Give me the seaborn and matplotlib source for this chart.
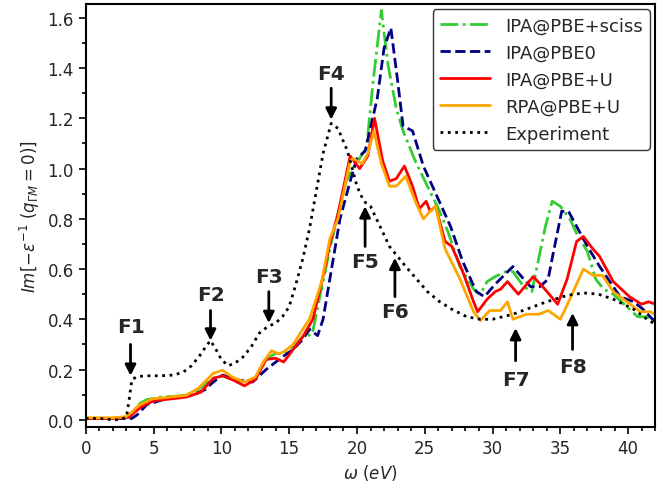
import matplotlib
matplotlib.use("Agg")
import matplotlib.pyplot as plt
import matplotlib.ticker as ticker
import seaborn as sns

# Experiment (EELS)
exp_x = [0, 1, 2, 2.5, 3.0, 3.2, 3.4, 3.8, 4.5, 5.5, 6.5, 7.2, 7.8, 8.4, 8.9, 9.2, 9.6, 10.0,
         10.5, 11.0, 11.6, 12.2, 12.8, 13.4, 14.0, 14.5, 15.0, 15.5, 16.0, 16.5, 17.0, 17.5,
         18.1, 18.6, 19.3, 20.0, 20.5, 21.0, 21.7, 22.4, 23.0, 23.6, 24.4, 25.2, 26.1, 27.0,
         28.1, 29.1, 30.0, 31.5, 33.0, 34.0, 35.5, 36.7, 37.8, 38.9, 40.4, 41.4, 42]
exp_y = [0.005, 0.005, 0.0, 0.0, 0.01, 0.08, 0.16, 0.172, 0.175, 0.175, 0.178, 0.19, 0.215,
         0.255, 0.295, 0.315, 0.28, 0.24, 0.215, 0.225, 0.25, 0.29, 0.345, 0.37, 0.385, 0.41,
         0.45, 0.54, 0.64, 0.76, 0.91, 1.06, 1.18, 1.16, 1.07, 0.93, 0.87, 0.85, 0.77, 0.69,
         0.65, 0.61, 0.56, 0.51, 0.47, 0.44, 0.41, 0.40, 0.40, 0.42, 0.45, 0.47, 0.495, 0.505,
         0.50, 0.48, 0.44, 0.40, 0.38]

# IPA@PBE+sciss
sciss_x = [0, 2, 3.2, 3.6, 4.0, 4.5, 5.5, 7.0, 8.0, 8.8, 9.4, 10.1, 10.8, 11.7, 12.5, 13.3,
           14.0, 14.6, 15.3, 16.0, 16.7, 17.3, 18.0, 18.6, 19.2, 19.7, 20.3, 20.7, 21.2, 21.8,
           22.3, 22.9, 23.4, 24.3, 25.2, 26.1, 26.7, 27.6, 28.6, 29.1, 29.6, 30.2, 31.0, 31.5,
           32.3, 32.9, 33.4, 33.9, 34.4, 35.0, 35.7, 36.3, 37.0, 37.6, 38.2, 38.9, 39.9, 40.7,
           41.4, 42]
sciss_y = [0.005, 0.005, 0.01, 0.04, 0.065, 0.08, 0.09, 0.095, 0.11, 0.14, 0.165, 0.175, 0.16,
           0.15, 0.16, 0.24, 0.265, 0.26, 0.29, 0.33, 0.34, 0.50, 0.68, 0.82, 0.95, 1.00, 1.05,
           1.08, 1.35, 1.63, 1.41, 1.24, 1.15, 1.03, 0.93, 0.83, 0.75, 0.61, 0.52, 0.50, 0.55,
           0.57, 0.59, 0.59, 0.53, 0.51, 0.64, 0.77, 0.87, 0.85, 0.80, 0.73, 0.67, 0.56, 0.52,
           0.50, 0.45, 0.41, 0.41, 0.40]

# IPA@PBE0
pbe0_x = [0, 2, 3.4, 3.8, 4.5, 6.0, 8.0, 8.8, 9.4, 10.1, 11.0, 12.3, 13.3, 14.5, 15.3, 16.0,
          16.5, 17.1, 17.5, 18.0, 18.75, 19.5, 20.0, 20.6, 21.5, 22.0, 22.5, 23.0, 23.4, 24.1,
          24.9, 25.9, 26.9, 27.8, 28.8, 29.4, 30.2, 31.5, 32.3, 32.8, 33.5, 34.1, 34.5, 35.1,
          35.6, 36.2, 37.0, 37.9, 39.4, 40.4, 41.1, 41.8, 42]
pbe0_y = [0.005, 0.005, 0.005, 0.02, 0.06, 0.085, 0.10, 0.12, 0.15, 0.178, 0.16, 0.15, 0.20,
          0.25, 0.28, 0.32, 0.36, 0.335, 0.40, 0.56, 0.80, 0.95, 1.04, 1.07, 1.28, 1.48, 1.56,
          1.35, 1.17, 1.15, 1.01, 0.89, 0.77, 0.63, 0.51, 0.49, 0.54, 0.61, 0.56, 0.53, 0.53,
          0.56, 0.67, 0.83, 0.83, 0.77, 0.69, 0.61, 0.49, 0.47, 0.44, 0.40, 0.39]

# IPA@PBE+U
ipa_u_x = [0, 2, 3.2, 3.6, 4.2, 5.0, 7.4, 8.5, 9.4, 10.1, 10.8, 11.7, 12.5, 13.3, 14.0, 14.6,
           15.3, 16.0, 16.75, 17.5, 18.0, 18.6, 19.5, 20.2, 20.8, 21.3, 21.9, 22.4, 22.9, 23.5,
           24.1, 24.6, 25.1, 25.4, 25.8, 26.5, 27.0, 27.8, 28.6, 28.9, 29.6, 30.2, 30.6, 31.1,
           31.9, 33.0, 33.7, 34.8, 35.5, 36.2, 36.7, 37.4, 37.9, 38.9, 40.1, 41.0, 41.5, 42]
ipa_u_y = [0.005, 0.005, 0.01, 0.03, 0.055, 0.075, 0.09, 0.11, 0.165, 0.175, 0.16, 0.135, 0.16,
           0.24, 0.245, 0.23, 0.28, 0.33, 0.40, 0.57, 0.70, 0.82, 1.05, 1.00, 1.05, 1.20, 1.03,
           0.95, 0.96, 1.01, 0.93, 0.84, 0.87, 0.83, 0.85, 0.71, 0.69, 0.59, 0.47, 0.43, 0.48,
           0.51, 0.52, 0.55, 0.50, 0.57, 0.53, 0.46, 0.56, 0.71, 0.73, 0.68, 0.65, 0.55, 0.49,
           0.46, 0.47, 0.46]

# RPA@PBE+U
rpa_u_x = [0, 2, 2.95, 3.4, 3.9, 4.9, 7.4, 8.3, 9.4, 10.1, 10.8, 11.7, 12.5, 13.1, 13.7, 14.2,
           14.6, 15.3, 16.0, 16.5, 17.4, 18.0, 18.6, 19.5, 19.7, 20.4, 20.8, 21.25, 21.8, 22.4,
           22.9, 23.6, 24.3, 24.9, 25.4, 25.8, 26.5, 27.6, 28.6, 29.1, 29.8, 30.6, 31.1, 31.5,
           32.5, 33.4, 34.1, 35.0, 35.7, 36.7, 37.4, 38.1, 38.9, 39.9, 40.9, 41.6, 42]
rpa_u_y = [0.008, 0.008, 0.012, 0.03, 0.057, 0.083, 0.097, 0.125, 0.185, 0.197, 0.17, 0.15,
           0.17, 0.23, 0.275, 0.263, 0.27, 0.30, 0.36, 0.40, 0.55, 0.72, 0.80, 1.03, 1.04, 1.02,
           1.06, 1.15, 1.02, 0.93, 0.93, 0.97, 0.87, 0.80, 0.83, 0.85, 0.68, 0.56, 0.43, 0.395,
           0.435, 0.435, 0.47, 0.40, 0.42, 0.42, 0.435, 0.40, 0.48, 0.60, 0.575, 0.575, 0.51,
           0.47, 0.43, 0.43, 0.42]

# feature labels: name, text position, arrow tail, arrow head
features = ['F1', 'F2', 'F3', 'F4', 'F5', 'F6', 'F7', 'F8']
feat_text = [(3.3, 0.37), (9.2, 0.50), (13.5, 0.57), (18.1, 1.38),
             (20.6, 0.63), (22.8, 0.43), (31.7, 0.16), (35.9, 0.21)]
feat_tail = [(3.3, 0.30), (9.2, 0.435), (13.5, 0.51), (18.1, 1.32),
             (20.6, 0.69), (22.8, 0.49), (31.7, 0.235), (35.9, 0.28)]
feat_head = [(3.3, 0.175), (9.2, 0.315), (13.5, 0.385), (18.1, 1.195),
             (20.6, 0.85), (22.8, 0.645), (31.7, 0.365), (35.9, 0.425)]

sns.set_style("ticks")
plt.rcParams['font.family'] = ['DejaVu Sans']

fig, ax = plt.subplots(figsize=(6.7, 4.85), dpi=100)
fig.subplots_adjust(left=0.128, right=0.978, top=0.99, bottom=0.118)

sns.lineplot(x=sciss_x, y=sciss_y, ax=ax, color='limegreen', linestyle='-.', lw=2, label='IPA@PBE+sciss')
sns.lineplot(x=pbe0_x, y=pbe0_y, ax=ax, color='navy', linestyle='--', lw=2, label='IPA@PBE0')
sns.lineplot(x=ipa_u_x, y=ipa_u_y, ax=ax, color='red', linestyle='-', lw=2, label='IPA@PBE+U')
sns.lineplot(x=rpa_u_x, y=rpa_u_y, ax=ax, color='orange', linestyle='-', lw=2, label='RPA@PBE+U')
sns.lineplot(x=exp_x, y=exp_y, ax=ax, color='black', linestyle=':', lw=2, label='Experiment')

for name, txt, tail, head in zip(features, feat_text, feat_tail, feat_head):
    ax.text(txt[0], txt[1], name, fontsize=14.5, fontweight='bold', ha='center', va='center')
    ax.annotate('', xy=head, xytext=tail,
                arrowprops=dict(arrowstyle='-|>', color='black', lw=2, mutation_scale=16,
                                shrinkA=0, shrinkB=0))

ax.set_xlim(0, 42)
ax.set_ylim(-0.028, 1.656)
ax.xaxis.set_major_locator(ticker.MultipleLocator(5))
ax.xaxis.set_minor_locator(ticker.MultipleLocator(1))
ax.yaxis.set_major_locator(ticker.MultipleLocator(0.2))
ax.yaxis.set_minor_locator(ticker.MultipleLocator(0.1))
ax.tick_params(axis='both', which='major', labelsize=12, length=5, width=1.2, color='black')
ax.tick_params(axis='both', which='minor', length=3, width=1.2, color='black')
for side in ax.spines.values():
    side.set_linewidth(1.5)
    side.set_color('black')

ax.set_xlabel(r'$\omega\ (eV)$', fontsize=12)
ax.set_ylabel(r'$Im[-\varepsilon^{-1}\ (q_{\Gamma M}=0)]$', fontsize=12)
ax.legend(loc='upper right', fontsize=13, frameon=True, edgecolor='black',
          handlelength=2.8, borderaxespad=0.3)

plt.savefig('out.png', dpi=100)
